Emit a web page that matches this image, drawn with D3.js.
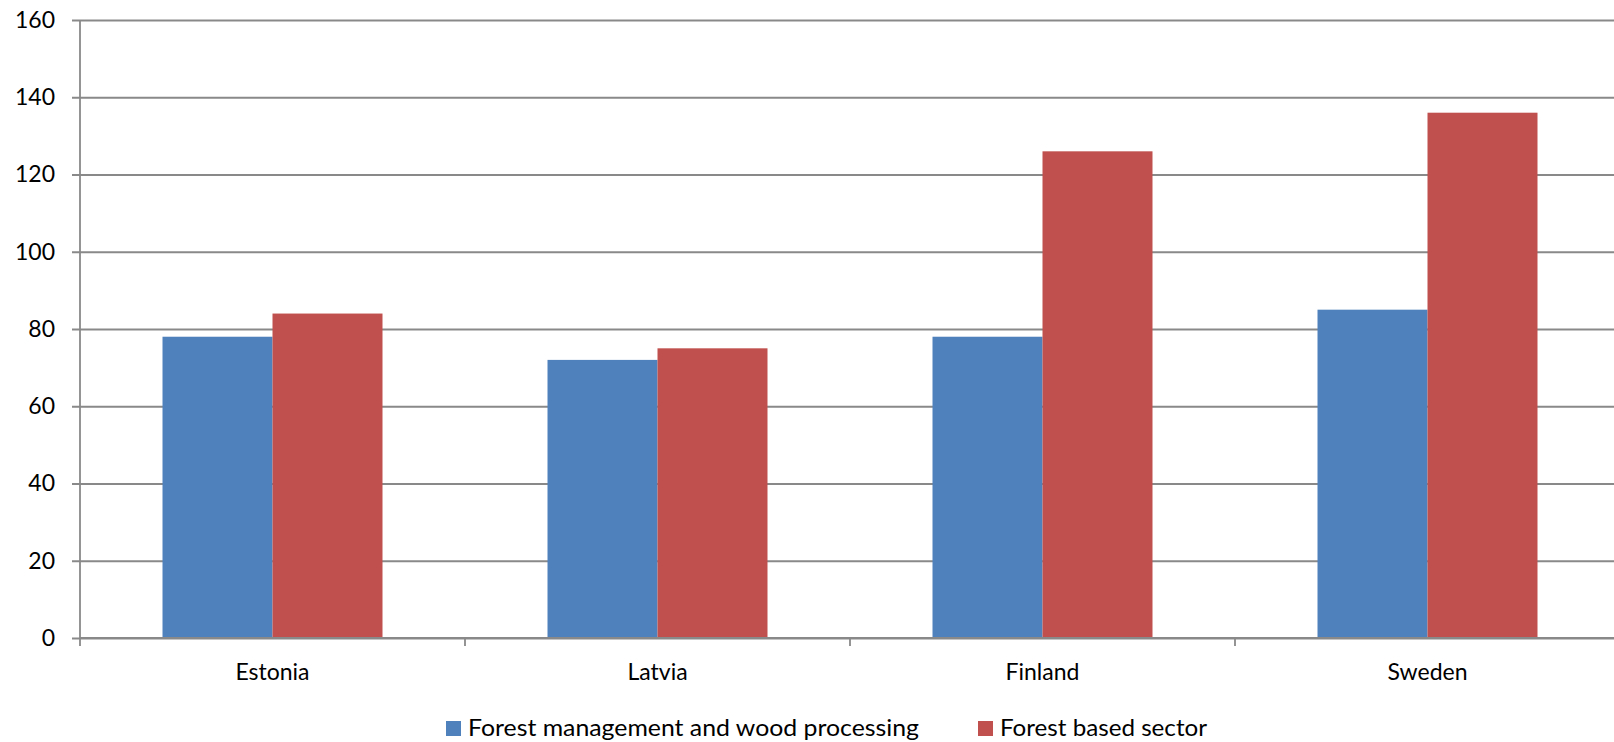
<!DOCTYPE html>
<html>
<head>
<meta charset="utf-8">
<script src="https://cdn.jsdelivr.net/npm/d3@7"></script>
<style>
  html, body { margin: 0; padding: 0; background: #fff; overflow: hidden; }
  svg { display: block; }
  text { font-family: Lato, "Open Sans", sans-serif; fill: #000; }
</style>
</head>
<body>
<svg id="chart" width="1614" height="742"></svg>
<script>
// Countries and the two series plotted per country
const categories = ["Estonia", "Latvia", "Finland", "Sweden"];
const seriesNames = ["Forest management and wood processing", "Forest based sector"];
const forestManagement = [78, 72, 78, 85];
const forestSector = [84, 75, 126, 136];
const yTicks = [0, 20, 40, 60, 80, 100, 120, 140, 160];
const colors = ["#4F81BD", "#C0504D"];

const svg = d3.select("#chart");
const W = 1614, H = 742;
// the plot area runs slightly past the right edge of the canvas
const margin = { left: 80, top: 20, bottom: 104 };
const plotW = 1540;
const plotH = H - margin.top - margin.bottom;
const gridColor = "#898989";

const g = svg.append("g").attr("transform", `translate(${margin.left},${margin.top})`);

const x = d3.scaleBand().domain(categories).range([0, plotW]).paddingInner(0).paddingOuter(0);
const xSub = d3.scaleBand().domain(seriesNames).range([0, x.bandwidth()]).paddingInner(0).paddingOuter(0.75);
const y = d3.scaleLinear().domain([0, 160]).range([plotH, 0]);

// Horizontal gridlines and y tick labels
const yAxis = d3.axisLeft(y).tickValues(yTicks).tickSize(-plotW).tickPadding(25).tickFormat(d3.format("d"));
const yG = g.append("g").call(yAxis);
yG.select(".domain").remove();
yG.selectAll(".tick line").attr("stroke", gridColor).attr("stroke-width", 1.8).attr("x1", -8);
yG.selectAll(".tick text").style("font-size", "23px").attr("fill", "#000");

// Bars
const rows = categories.map((c, i) => ({ cat: c, vals: [forestManagement[i], forestSector[i]] }));
const groups = g.selectAll(".grp").data(rows).join("g")
  .attr("class", "grp")
  .attr("transform", d => `translate(${x(d.cat)},0)`);
groups.selectAll("rect").data(d => d.vals.map((v, j) => ({ v, s: seriesNames[j], j }))).join("rect")
  .attr("x", d => xSub(d.s))
  .attr("width", xSub.bandwidth())
  .attr("y", d => y(d.v))
  .attr("height", d => plotH - y(d.v))
  .attr("fill", d => colors[d.j]);

// Vertical axis line
g.append("line").attr("x1", 0).attr("x2", 0).attr("y1", 0).attr("y2", plotH)
  .attr("stroke", gridColor).attr("stroke-width", 1.8);

// Category axis with tick marks between groups
const bounds = categories.map(c => x(c)).concat([plotW]);
const xG = g.append("g").attr("transform", `translate(0,${plotH})`);
xG.append("line").attr("x1", 0).attr("x2", plotW).attr("stroke", gridColor).attr("stroke-width", 1.8);
xG.selectAll(".xt").data(bounds).join("line")
  .attr("x1", d => d).attr("x2", d => d).attr("y1", 0).attr("y2", 8)
  .attr("stroke", gridColor).attr("stroke-width", 1.8);
xG.selectAll(".xl").data(categories).join("text")
  .attr("x", d => x(d) + x.bandwidth() / 2)
  .attr("y", 41.5)
  .attr("text-anchor", "middle")
  .style("font-size", "23px")
  .text(d => d);

// Legend
const legend = svg.append("g").attr("transform", "translate(0,736)");
const legendX = [446, 978];
const legendTextW = [451, 207];
seriesNames.forEach((name, i) => {
  legend.append("rect").attr("x", legendX[i]).attr("y", -15).attr("width", 15).attr("height", 15).attr("fill", colors[i]);
  legend.append("text").attr("x", legendX[i] + 22).attr("y", 0)
    .style("font-size", "23px")
    .attr("textLength", legendTextW[i]).attr("lengthAdjust", "spacingAndGlyphs")
    .text(name);
});
</script>
</body>
</html>
